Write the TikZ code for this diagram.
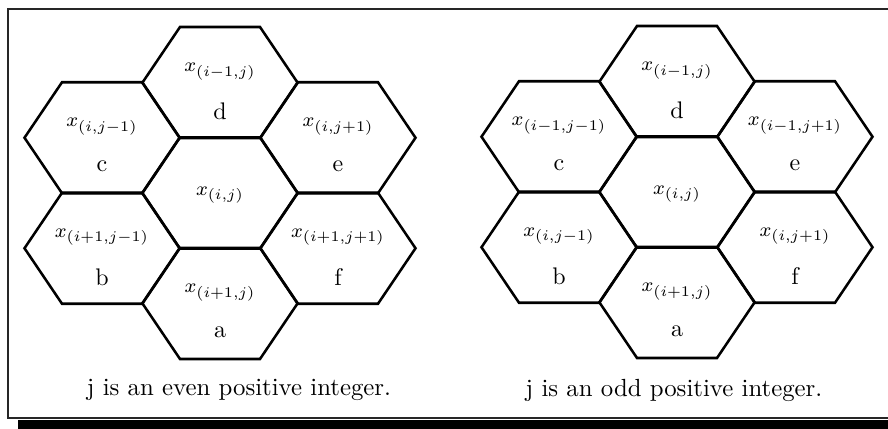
\documentclass[tikz,border=0pt]{standalone}
\usepackage{amsmath}
\usetikzlibrary{positioning}
\tikzset{
  hexcell/.style={line width=1.9pt,line join=miter},
  cellmath/.style={font=\footnotesize,scale=1.85},
  cellname/.style={font=\normalsize,scale=1.8},
  capt/.style={font=\normalsize,scale=1.86},
  frame/.style={line width=1.1pt,draw=black!85}
}
\newcommand\hexcellat[2]{%
  \draw[hexcell,shift={(#1,#2)}] (-77.5,0) -- (-40,-55.5) -- (40,-55.5)
    -- (77.5,0) -- (40,55.5) -- (-40,55.5) -- cycle;}

\begin{document}
\begin{tikzpicture}[x=0.75pt,y=-0.75pt]
\clip (0,0) rectangle (888,428);
\useasboundingbox (0,0) rectangle (888,428);
% shadow and frame
\fill[black] (18,420) rectangle (900,440);
\draw[frame,fill=white] (8,9) rectangle (900,418);

% j even
\foreach \cx/\cy/\nm/\sub in {220/82.5/d/{(i-1,j)},102/137.75/c/{(i,j-1)},
    338/137.75/e/{(i,j+1)},102/248.25/b/{(i+1,j-1)},
    338/248.25/f/{(i+1,j+1)},220/303.5/a/{(i+1,j)}}{
  \hexcellat{\cx}{\cy}
  \node[cellmath] (L-\nm-x) at (\cx,\cy-11) {$x_{\sub}$};
  \node[cellname] (L-\nm) at (\cx,\cy+29) {\nm};
}
\hexcellat{220}{193}
\node[cellmath] (L-ij) at (220,195) {$x_{(i,j)}$};
\node[capt] (L-capt) at (239,390) {j is an even positive integer.};

% j odd
\begin{scope}[shift={(457,-1)}]
\foreach \cx/\cy/\nm/\sub in {220/82.5/d/{(i-1,j)},102/137.75/c/{(i-1,j-1)},
    338/137.75/e/{(i-1,j+1)},102/248.25/b/{(i,j-1)},
    338/248.25/f/{(i,j+1)},220/303.5/a/{(i+1,j)}}{
  \hexcellat{\cx}{\cy}
  \node[cellmath] (R-\nm-x) at (\cx,\cy-11) {$x_{\sub}$};
  \node[cellname] (R-\nm) at (\cx,\cy+29) {\nm};
}
\hexcellat{220}{193}
\node[cellmath] (R-ij) at (220,195) {$x_{(i,j)}$};
\node[capt] (R-capt) at (217,391) {j is an odd positive integer.};
\end{scope}
\end{tikzpicture}
\end{document}
